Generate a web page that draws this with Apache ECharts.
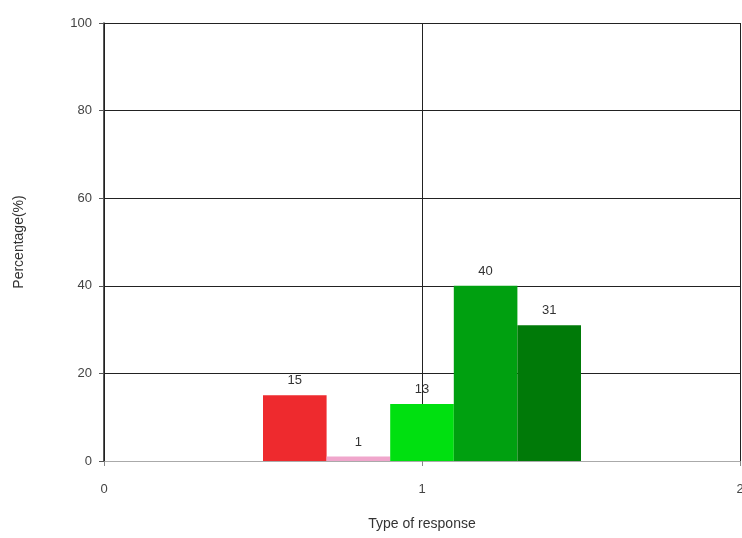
<!DOCTYPE html>
<html>
<head>
<meta charset="utf-8">
<script src="https://cdn.jsdelivr.net/npm/echarts@6/dist/echarts.min.js"></script>
<style>
  html, body { margin: 0; padding: 0; background: #fff; }
  #chart { width: 742px; height: 538px; }
</style>
</head>
<body>
<div id="chart"></div>
<script>
// bar centres on the x axis (data units) and their heights in %
var barCenters = [0.6, 0.8, 1.0, 1.2, 1.4];
var barValues = [15, 1, 13, 40, 31];
var barColors = ["#ee2a2e", "#f0a6cc", "#00e010", "#00a010", "#007a08"];
var barWidth = 0.2;
var yTicks = [0, 20, 40, 60, 80, 100];
var xTicks = [0, 1, 2];

var chart = echarts.init(document.getElementById("chart"));

var data = barCenters.map(function (c, i) {
  return [c - barWidth / 2, c + barWidth / 2, barValues[i], i];
});

chart.setOption({
  animation: false,
  textStyle: { fontFamily: "Liberation Sans, Arial, sans-serif" },
  grid: { left: 104, right: 2, top: 23, bottom: 77, outerBoundsMode: "none" },
  xAxis: {
    type: "value",
    min: xTicks[0],
    max: xTicks[xTicks.length - 1],
    interval: 1,
    name: "Type of response",
    nameLocation: "middle",
    nameGap: 56,
    nameTextStyle: { color: "#333", fontSize: 14 },
    axisLine: { show: true, lineStyle: { color: "#aaa", width: 1 } },
    axisTick: { show: true, length: 5, lineStyle: { color: "#888" } },
    axisLabel: { color: "#444", fontSize: 13, margin: 22 },
    splitLine: { show: true, lineStyle: { color: "#222", width: 1 } }
  },
  yAxis: {
    type: "value",
    min: yTicks[0],
    max: yTicks[yTicks.length - 1],
    interval: 20,
    name: "Percentage(%)",
    nameLocation: "middle",
    nameGap: 78,
    nameTextStyle: { color: "#333", fontSize: 14 },
    axisLine: { show: true, lineStyle: { color: "#222", width: 1.5 } },
    axisTick: { show: true, length: 5, lineStyle: { color: "#555" } },
    axisLabel: { color: "#444", fontSize: 13, margin: 12 },
    splitLine: { show: true, lineStyle: { color: "#222", width: 1.2 } }
  },
  series: [{
    type: "custom",
    data: data,
    encode: { x: [0, 1], y: 2 },
    renderItem: function (params, api) {
      var p0 = api.coord([api.value(0), api.value(2)]);
      var p1 = api.coord([api.value(1), 0]);
      var v = api.value(2);
      return {
        type: "group",
        children: [{
          type: "rect",
          shape: { x: p0[0], y: p0[1], width: p1[0] - p0[0], height: p1[1] - p0[1] },
          style: { fill: barColors[api.value(3)] }
        }, {
          type: "text",
          style: {
            text: String(v),
            x: (p0[0] + p1[0]) / 2,
            y: p0[1] - 8,
            align: "center",
            verticalAlign: "bottom",
            fill: "#333",
            fontSize: 13,
            fontFamily: "Liberation Sans, Arial, sans-serif"
          }
        }]
      };
    }
  }]
});
</script>
</body>
</html>
